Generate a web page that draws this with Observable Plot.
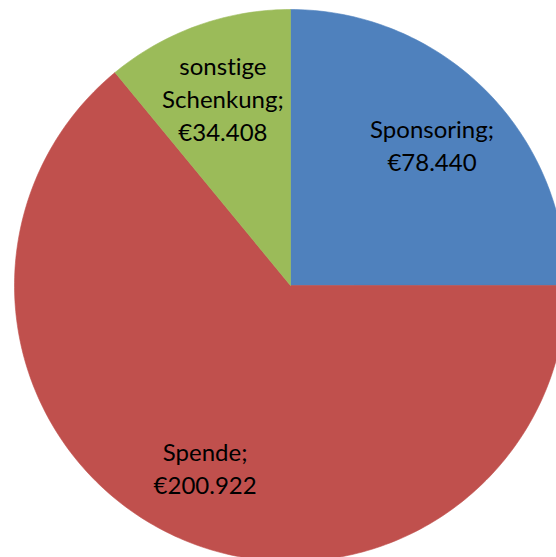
<!DOCTYPE html>
<html><head><meta charset="utf-8">
<script src="https://cdn.jsdelivr.net/npm/d3@7"></script>
<script src="https://cdn.jsdelivr.net/npm/@observablehq/plot@0.6"></script>
<style>body{margin:0;background:#fff}#chart svg{display:block}#chart text{font-variant-ligatures:none;font-feature-settings:"liga" 0}</style></head>
<body><div id="chart"></div>
<script>
const categories = ["Sponsoring", "Spende", "sonstige Schenkung"];
const values = [78440, 200922, 34408];
const colors = ["#4F81BD", "#C0504D", "#9BBB59"];
const labelLines = [["Sponsoring;"], ["Spende;"], ["sonstige", "Schenkung;"]];

const fmt = d3.formatLocale({decimal: ",", thousands: ".", grouping: [3], currency: ["€", ""]}).format("$,");
const data = categories.map((c, i) => ({category: c, value: values[i], label: [...labelLines[i], fmt(values[i])].join("\n")}));
const arcs = d3.pie().sort(null).value(d => d.value)(data);

const polys = arcs.flatMap(a => {
  const n = Math.max(2, Math.ceil((a.endAngle - a.startAngle) / (2 * Math.PI) * 360));
  const c = a.data.category;
  const pts = [{category: c, x: 0, y: 0}];
  for (let k = 0; k <= n; k++) {
    const t = a.startAngle + (a.endAngle - a.startAngle) * k / n;
    pts.push({category: c, x: Math.sin(t), y: Math.cos(t)});
  }
  pts.push({category: c, x: 0, y: 0});
  return pts;
});

const labelR = 0.725;
const labels = arcs.map(a => {
  const m = (a.startAngle + a.endAngle) / 2;
  return {label: a.data.label, x: labelR * Math.sin(m), y: labelR * Math.cos(m)};
});

const W = 556, H = 557, R = 276, CX = 290, CY = 285;
const chart = Plot.plot({
  width: W, height: H,
  margin: 0,
  x: {domain: [-CX / R, (W - CX) / R], axis: null},
  y: {domain: [-(H - CY) / R, CY / R], axis: null},
  color: {domain: categories, range: colors},
  style: {background: "#fff", fontFamily: "Lato, sans-serif"},
  marks: [
    Plot.line(polys, {x: "x", y: "y", z: "category", fill: "category", stroke: "category", strokeWidth: 0.6, curve: "linear"}),
    Plot.text(labels, {x: "x", y: "y", text: "label", fontSize: 24, lineHeight: 1.375, fill: "#000", textAnchor: "middle"})
  ]
});
document.getElementById("chart").append(chart);
</script>
</body></html>
